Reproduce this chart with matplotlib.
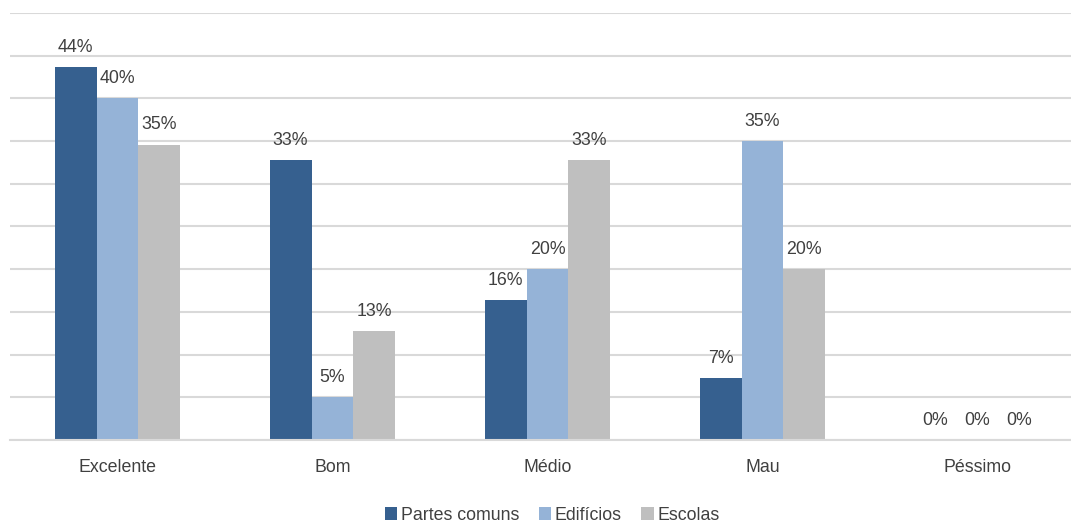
import matplotlib.pyplot as plt
import numpy as np

plt.rcParams['font.family'] = ['Liberation Sans', 'DejaVu Sans']

# categorias e séries
categorias = ['Excelente', 'Bom', 'Médio', 'Mau', 'Péssimo']
partes_comuns = [43.7, 32.8, 16.4, 7.3, 0]
edificios = [40.0, 5.0, 20.0, 35.0, 0]
escolas = [34.6, 12.8, 32.8, 20.0, 0]
series = ['Partes comuns', 'Edifícios', 'Escolas']
cores = ['#36608f', '#95b3d7', '#bfbfbf']

fig = plt.figure(figsize=(10.71, 5.24), dpi=100)
ax = fig.add_axes([10 / 1071, 1 - 440 / 524, 1075 / 1071, 427 / 524])

x = np.arange(len(categorias))
w = 0.195
for i, (vals, nome, cor) in enumerate(zip([partes_comuns, edificios, escolas], series, cores)):
    bars = ax.bar(x + (i - 1) * w, vals, w, color=cor, label=nome, zorder=2)
    for b, v in zip(bars, vals):
        ax.annotate(f'{round(v):.0f}%', (b.get_x() + b.get_width() / 2, v),
                    xytext=(0, 8), textcoords='offset points', ha='center', va='bottom',
                    fontsize=12.8, color='#404040')

ax.set_xlim(-0.5, len(categorias) - 0.5)
ax.set_ylim(0, 50)
ax.set_yticks(np.arange(0, 51, 5))
ax.yaxis.grid(True, color='#d9d9d9', lw=1.5, zorder=0)
ax.tick_params(axis='y', left=False, labelleft=False)
ax.tick_params(axis='x', length=0, labelsize=12.8, labelcolor='#404040', pad=14)
ax.set_xticks(x)
ax.set_xticklabels(categorias)
for s in ['top', 'right', 'left']:
    ax.spines[s].set_visible(False)
ax.spines['bottom'].set_color('#d9d9d9')
ax.spines['bottom'].set_linewidth(1.5)

fig.legend(loc='center', bbox_to_anchor=(552 / 1071, 1 - 515 / 524), ncol=3, frameon=False,
           fontsize=12.8, labelcolor='#404040', handlelength=0.7, handleheight=0.7,
           handletextpad=0.2, columnspacing=1.1)

fig.savefig('out.png', dpi=100)
